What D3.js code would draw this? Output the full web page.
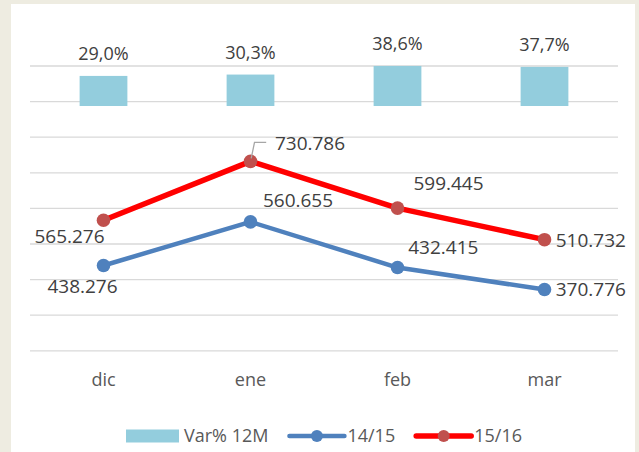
<!DOCTYPE html>
<html>
<head>
<meta charset="utf-8">
<script src="https://cdn.jsdelivr.net/npm/d3@7"></script>
<style>
  html, body { margin: 0; padding: 0; background: #eeece1; }
  svg { display: block; font-family: "Open Sans", sans-serif; }
</style>
</head>
<body>
<div id="chart"></div>
<script>
// data
const categories = ["dic", "ene", "feb", "mar"];
const varPct = [0.290, 0.303, 0.386, 0.377];
const s1415 = [438276, 560655, 432415, 370776];
const s1516 = [565276, 730786, 599445, 510732];
const gridTicks = [200000, 300000, 400000, 500000, 600000, 700000, 800000, 900000, 1000000];
const seriesNames = ["Var% 12M", "14/15", "15/16"];

// label placement (px offsets from each point, text baseline)
const labelOffsets = {
  "14/15": [[-21, 27.4], [47.5, -15], [45.8, -13.7], [46.3, 6.7]],
  "15/16": [[-34, 23], [59.5, -11], [51, -17.6], [46.3, 7.4]]
};

const W = 639, H = 452;
const es = d3.formatLocale({ decimal: ",", thousands: ".", grouping: [3], currency: ["", " €"] });
const fmtNum = es.format(",");
const fmtPct = es.format(".1%");

const svg = d3.select("#chart").append("svg")
  .attr("width", W)
  .attr("height", H);

// white chart panel
svg.append("rect")
  .attr("x", 11).attr("y", 4)
  .attr("width", 624).attr("height", H)
  .attr("fill", "#ffffff");

const x = d3.scaleBand(categories, [30, 618]);
const y = d3.scaleLinear([200000, 1000000], [350.3, 65.5]);
const yBar = d3.scaleLinear([0, 0.4], [106, 64.5]);

// gridlines
svg.append("g")
  .attr("transform", "translate(30,0)")
  .call(d3.axisLeft(y).tickValues(gridTicks).tickSize(-588).tickFormat(""))
  .call(g => g.select(".domain").remove())
  .call(g => g.selectAll(".tick line").attr("stroke", "#d9d9d9").attr("stroke-width", 1.3));

// category labels
svg.append("g")
  .selectAll("text")
  .data(categories)
  .join("text")
  .attr("x", d => x(d) + x.bandwidth() / 2)
  .attr("y", 386)
  .attr("text-anchor", "middle")
  .attr("font-size", 18)
  .attr("fill", "#595959")
  .text(d => d);

// bars
const barW = x.bandwidth() * 0.325;
const bars = svg.append("g");
bars.selectAll("rect")
  .data(varPct)
  .join("rect")
  .attr("x", (d, i) => x(categories[i]) + (x.bandwidth() - barW) / 2)
  .attr("y", d => yBar(d))
  .attr("width", barW)
  .attr("height", d => yBar(0) - yBar(d))
  .attr("fill", "#93cddd");
bars.selectAll("text")
  .data(varPct)
  .join("text")
  .attr("x", (d, i) => x(categories[i]) + x.bandwidth() / 2)
  .attr("y", d => yBar(d) - 16)
  .attr("text-anchor", "middle")
  .attr("font-size", 18)
  .attr("fill", "#404040")
  .text(d => fmtPct(d));

// lines
const line = d3.line()
  .x((d, i) => x(categories[i]) + x.bandwidth() / 2)
  .y(d => y(d));

const series = [
  { name: "14/15", values: s1415, stroke: "#4f81bd", marker: "#4f81bd", width: 4.5 },
  { name: "15/16", values: s1516, stroke: "#ff0000", marker: "#c0504d", width: 5.5 }
];

series.forEach(s => {
  const g = svg.append("g");
  g.append("path")
    .attr("d", line(s.values))
    .attr("fill", "none")
    .attr("stroke", s.stroke)
    .attr("stroke-width", s.width)
    .attr("stroke-linejoin", "round");
  g.selectAll("circle")
    .data(s.values)
    .join("circle")
    .attr("cx", (d, i) => x(categories[i]) + x.bandwidth() / 2)
    .attr("cy", d => y(d))
    .attr("r", 6.8)
    .attr("fill", s.marker);
});

// leader line for 730.786
const lx = x("ene") + x.bandwidth() / 2, ly = y(s1516[1]);
svg.append("path")
  .attr("d", `M${lx + 0.7},${ly - 3}L${lx + 4},${ly - 19}L${lx + 15.7},${ly - 19}`)
  .attr("fill", "none")
  .attr("stroke", "#a6a6a6")
  .attr("stroke-width", 1.3);

// data labels
series.forEach(s => {
  svg.append("g")
    .selectAll("text")
    .data(s.values)
    .join("text")
    .attr("x", (d, i) => x(categories[i]) + x.bandwidth() / 2 + labelOffsets[s.name][i][0])
    .attr("y", (d, i) => y(d) + labelOffsets[s.name][i][1])
    .attr("text-anchor", "middle")
    .attr("font-size", 19)
    .attr("fill", "#404040")
    .text(d => fmtNum(d));
});

// legend
const legend = svg.append("g").attr("transform", "translate(126,436)");
let lxPos = 0;
seriesNames.forEach((name, i) => {
  const item = legend.append("g").attr("transform", `translate(${lxPos},0)`);
  if (i === 0) {
    item.append("rect")
      .attr("x", 0).attr("y", -6.5)
      .attr("width", 53).attr("height", 13)
      .attr("fill", "#93cddd");
  } else {
    const s = series[i - 1];
    item.append("line")
      .attr("x1", 0).attr("x2", 55)
      .attr("stroke", s.stroke)
      .attr("stroke-width", s.width)
      .attr("stroke-linecap", "round");
    item.append("circle")
      .attr("cx", 27.5).attr("r", 6)
      .attr("fill", s.marker);
  }
  const t = item.append("text")
    .attr("x", i === 0 ? 58 : 58)
    .attr("y", 6.3)
    .attr("font-size", 18)
    .attr("fill", "#595959")
    .text(name);
  lxPos += 58 + t.node().getComputedTextLength() + 21;
});
</script>
</body>
</html>
